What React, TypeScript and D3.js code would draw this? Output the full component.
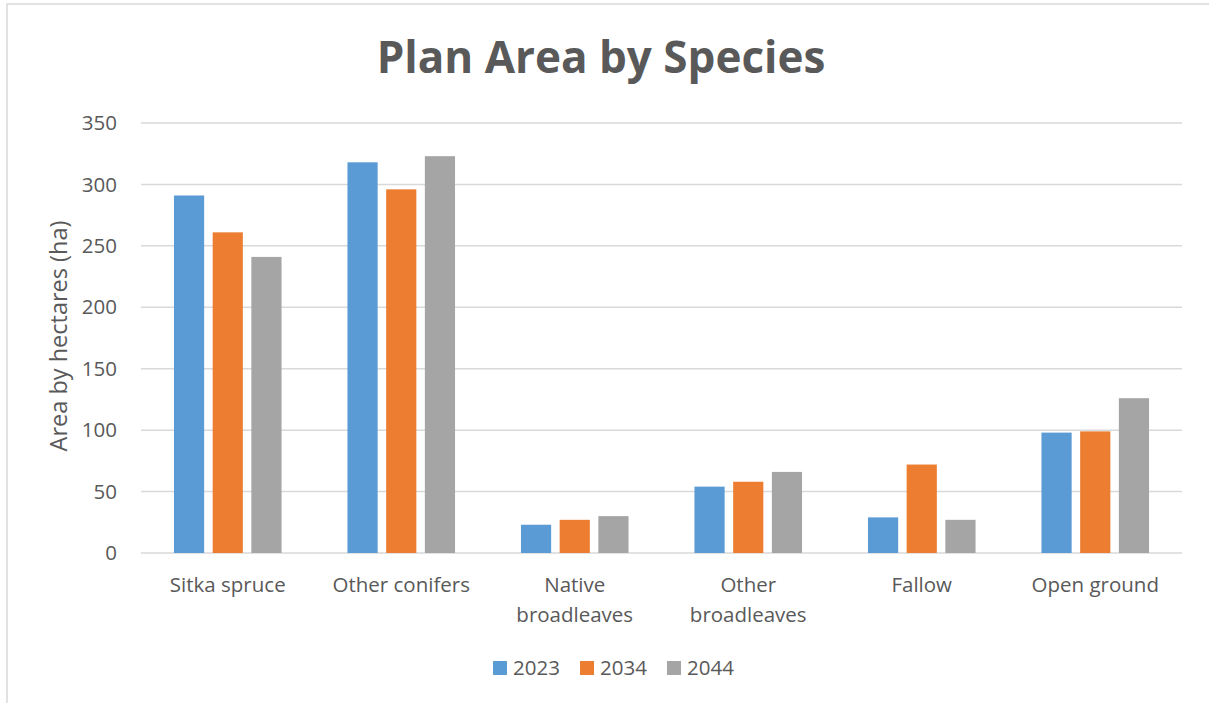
import React from 'react';
import * as d3 from 'd3';

const categories = [
  ['Sitka spruce'],
  ['Other conifers'],
  ['Native', 'broadleaves'],
  ['Other', 'broadleaves'],
  ['Fallow'],
  ['Open ground'],
];
const seriesNames = ['2023', '2034', '2044'];
const values2023 = [291, 318, 23, 54, 29, 98];
const values2034 = [261, 296, 27, 58, 72, 99];
const values2044 = [241, 323, 30, 66, 27, 126];
const yTicks = [0, 50, 100, 150, 200, 250, 300, 350];

const colors = ['#5B9BD5', '#ED7D31', '#A5A5A5'];
const textColor = '#595959';
const gridColor = '#D9D9D9';
const font = '"Open Sans", "Noto Sans", sans-serif';

const W = 1209;
const H = 703;
const plot = { left: 141, right: 1182, top: 123, bottom: 553 };

const App: React.FC = () => {
  const seriesValues = [values2023, values2034, values2044];
  const keys = categories.map(c => c.join(' '));

  const x0 = d3.scaleBand<string>()
    .domain(keys)
    .range([plot.left, plot.right])
    .padding(0);

  const bw = x0.bandwidth();
  const x1 = d3.scaleBand<string>()
    .domain(seriesNames)
    .range([bw * 0.19, bw * 0.81])
    .paddingInner(0.22);

  const y = d3.scaleLinear()
    .domain([0, 350])
    .range([plot.bottom, plot.top]);

  // legend layout
  const legendX = [493, 580, 667];

  return (
    <svg
      width={W}
      height={H}
      style={{ position: 'absolute', left: 0, top: 0, background: '#fff' }}
      fontFamily={font}
    >
      <rect x={0} y={0} width={W} height={H} fill="#fff" />
      {/* chart frame (only left/top edges visible) */}
      <path d={`M7,${H + 5} L7,4 L${W + 5},4`} fill="none" stroke={gridColor} strokeWidth={1.5} />

      <text
        x={601}
        y={73}
        textAnchor="middle"
        fontSize={44}
        fontWeight="bold"
        fill={textColor}
      >
        Plan Area by Species
      </text>

      {/* gridlines */}
      {yTicks.map(t => (
        <line
          key={t}
          x1={plot.left}
          x2={plot.right}
          y1={y(t)}
          y2={y(t)}
          stroke={gridColor}
          strokeWidth={1.5}
        />
      ))}

      {/* y tick labels */}
      {yTicks.map(t => (
        <text
          key={'l' + t}
          x={117}
          y={y(t)}
          dy="0.35em"
          textAnchor="end"
          fontSize={20.5}
          fill={textColor}
        >
          {t}
        </text>
      ))}

      <text
        transform={`translate(67,336) rotate(-90)`}
        textAnchor="middle"
        fontSize={23.5}
        fill={textColor}
      >
        Area by hectares (ha)
      </text>

      {/* bars */}
      {keys.map((k, ci) => (
        <g key={k} transform={`translate(${x0(k)},0)`}>
          {seriesNames.map((s, si) => {
            const v = seriesValues[si][ci];
            return (
              <rect
                key={s}
                x={x1(s)}
                y={y(v)}
                width={x1.bandwidth()}
                height={y(0) - y(v)}
                fill={colors[si]}
              />
            );
          })}
        </g>
      ))}

      {/* x labels */}
      {categories.map((lines, ci) => (
        <text
          key={'x' + ci}
          x={(x0(keys[ci]) as number) + bw / 2}
          y={592}
          textAnchor="middle"
          fontSize={20.5}
          fill={textColor}
        >
          {lines.map((ln, li) => (
            <tspan key={li} x={(x0(keys[ci]) as number) + bw / 2} dy={li === 0 ? 0 : 29.5}>
              {ln}
            </tspan>
          ))}
        </text>
      ))}

      {/* legend */}
      {seriesNames.map((s, si) => (
        <g key={'lg' + s} transform={`translate(${legendX[si]},661)`}>
          <rect x={0} y={0} width={14} height={14} fill={colors[si]} />
          <text x={20} y={14} fontSize={20.5} fill={textColor}>
            {s}
          </text>
        </g>
      ))}
    </svg>
  );
};

export default App;
